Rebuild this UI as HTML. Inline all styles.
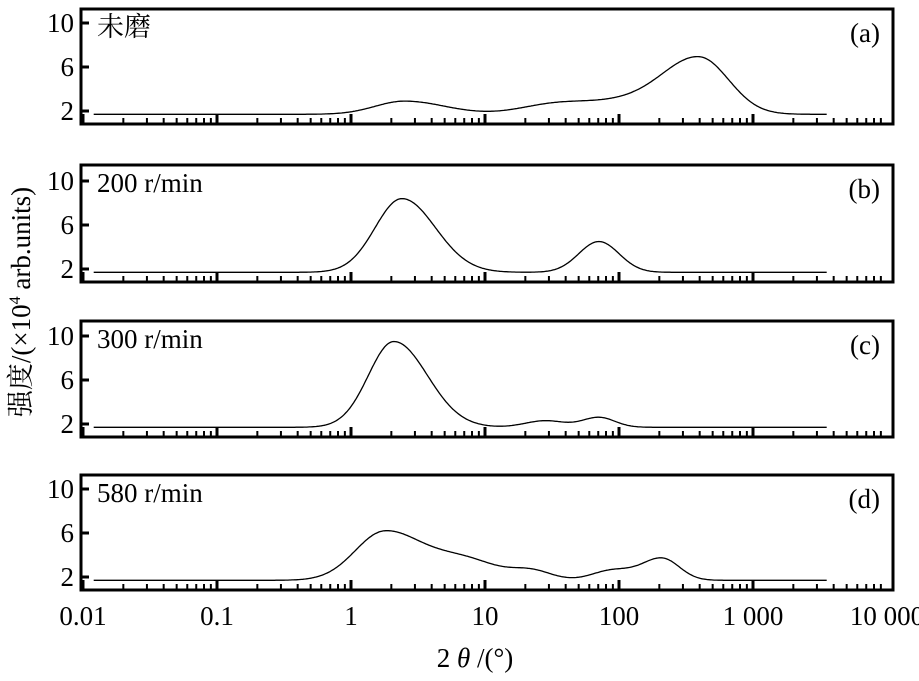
<!DOCTYPE html>
<html><head><meta charset="utf-8"><style>
body{margin:0;background:#fff}
svg text{font-family:"Liberation Serif","Noto Serif CJK SC",serif;fill:#000}
</style></head><body>
<svg id="s" width="919" height="676" xmlns="http://www.w3.org/2000/svg"></svg>
<script>
const S=document.getElementById('s');let h='';
const X=v=>83+134*(Math.log10(v)+2);
const panels=[
 {t:9,b:124,lab:'未磨',tag:'(a)',g:[[1.2,.4,.22,.3],[.8,1.5,.25,.25],[1.0,2.0,.3,.3],[5.1,2.6,.28,.22]]},
 {t:165,b:282,lab:'200 r/min',tag:'(b)',g:[[6.7,.38,.2,.25],[2.8,1.85,.15,.15]]},
 {t:321,b:437,lab:'300 r/min',tag:'(c)',g:[[7.8,.32,.19,.25],[.6,1.45,.15,.15],[.9,1.85,.12,.12]]},
 {t:475,b:590,lab:'580 r/min',tag:'(d)',g:[[4.4,.25,.22,.28],[1.8,.85,.25,.25],[.8,1.35,.15,.15],[.9,1.95,.15,.15],[2,2.32,.15,.13]]}
];
panels.forEach(p=>{
 const Y=v=>p.b-13-(v-2)*11;
 h+=`<rect x="81" y="${p.t}" width="812" height="${p.b-p.t}" fill="none" stroke="#000" stroke-width="3"/>`;
 [2,6,10].forEach(v=>{h+=`<line x1="81" x2="89" y1="${Y(v)}" y2="${Y(v)}" stroke="#000" stroke-width="3"/><text x="74" y="${Y(v)+9}" font-size="27" text-anchor="end">${v}</text>`;});
 for(let e=-2;e<4;e++)for(let m=1;m<10;m++){const x=X(m*Math.pow(10,e));if(x>893)continue;h+=`<line x1="${x}" x2="${x}" y1="${p.b}" y2="${p.b-(m==1?10:6)}" stroke="#000" stroke-width="${m==1?3:2}"/>`;}
 let d='';for(let u=-1.92;u<=3.55;u+=0.01){let v=1.7;p.g.forEach(([A,mu,sl,sr])=>{const s=u<mu?sl:sr;v+=A*Math.exp(-((u-mu)**2)/(2*s*s));});d+=(d?'L':'M')+(83+134*(u+2)).toFixed(1)+','+Y(v).toFixed(1);}
 h+=`<path d="${d}" fill="none" stroke="#000" stroke-width="1.3"/>`;
 h+=`<text x="97" y="${p.t+27}" font-size="27">${p.lab}</text><text x="880" y="${p.t+33}" font-size="27" text-anchor="end">${p.tag}</text>`;
});
[['0.01',0.01],['0.1',0.1],['1',1],['10',10],['100',100],['1 000',1000],['10 000',10000]].forEach(([l,v])=>{h+=`<text x="${X(v)}" y="625" font-size="27" text-anchor="middle">${l}</text>`;});
h+=`<text x="475" y="667" font-size="27" text-anchor="middle">2 <tspan font-style="italic">θ</tspan> /(°)</text>`;
h+=`<text transform="translate(30,302) rotate(-90)" font-size="27" text-anchor="middle">强度/(×10<tspan font-size="16" dy="-10">4</tspan><tspan dy="10"> arb.units)</tspan></text>`;
S.innerHTML=h;
</script>
</body></html>
